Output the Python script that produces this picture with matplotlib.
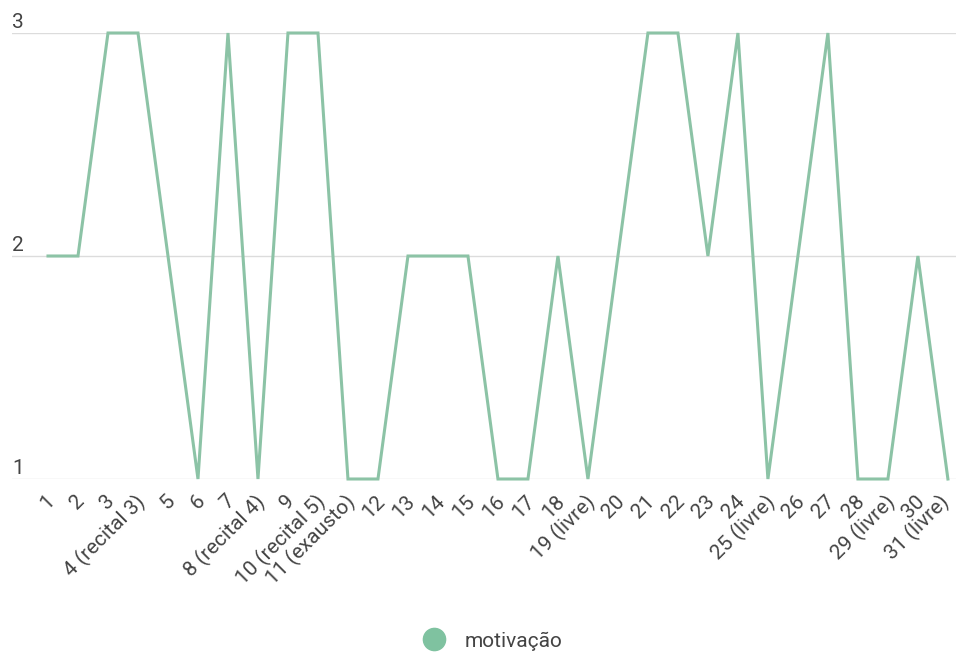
import matplotlib
matplotlib.use("Agg")
import matplotlib.pyplot as plt
from matplotlib.lines import Line2D
from matplotlib import transforms

# daily motivation scores for the month
days = list(range(1, 32))
day_labels = [
    "1", "2", "3", "4 (recital 3)", "5", "6", "7", "8 (recital 4)", "9",
    "10 (recital 5)", "11 (exausto)", "12", "13", "14", "15", "16", "17",
    "18", "19 (livre)", "20", "21", "22", "23", "24", "25 (livre)", "26",
    "27", "28", "29 (livre)", "30", "31 (livre)",
]
motivacao = [2, 2, 3, 3, 2, 1, 3, 1, 3, 3, 1, 1, 2, 2, 2, 1, 1, 2, 1, 2,
             3, 3, 2, 3, 1, 2, 3, 1, 1, 2, 1]
y_ticks = [1, 2, 3]

line_color = "#8cc3a6"
text_color = "#444444"
plt.rcParams["font.family"] = ["Roboto", "DejaVu Sans"]

W, H = 956, 652
fig = plt.figure(figsize=(W / 100, H / 100), dpi=100)
ax = fig.add_axes([12 / W, 1 - 479 / H, (956 - 12) / W, (479 - 33) / H])

ax.plot(days, motivacao, color=line_color, linewidth=2.2, clip_on=False,
        solid_joinstyle="miter")

ax.set_xlim(-0.2, 31.27)
ax.set_ylim(1, 3)

# horizontal gridlines
for v in y_ticks:
    ax.axhline(v, color="#dcdcdc", linewidth=1, zorder=0)

# y labels sit above their gridline at the left edge
offset = transforms.offset_copy(ax.get_yaxis_transform(), fig=fig, x=0, y=5, units="dots")
for v in y_ticks:
    ax.text(0, v, str(v), transform=offset, ha="left", va="baseline",
            fontsize=15, color=text_color)

ax.set_yticks([])
ax.set_xticks(days)
ax.set_xticklabels(day_labels, rotation=45, ha="right", rotation_mode="anchor",
                   fontsize=15, color=text_color)
ax.tick_params(axis="x", length=0, pad=9)
# nudge the rotated labels a little to the left; the last one a bit more so it fits
labels = ax.get_xticklabels()
for i, lbl in enumerate(labels):
    dx = -9 if i == len(labels) - 1 else -3
    lbl.set_transform(lbl.get_transform()
                      + transforms.ScaledTranslation(dx / 100, 0, fig.dpi_scale_trans))
for s in ax.spines.values():
    s.set_visible(False)

handle = Line2D([], [], marker="o", linestyle="none", markersize=16,
                markerfacecolor="#7fc2a0", markeredgecolor="#7fc2a0")
fig.legend([handle], ["motivação"], loc="center", bbox_to_anchor=(488 / W, 1 - 641 / H),
           frameon=False, fontsize=15, labelcolor=text_color, handletextpad=0.5)

fig.savefig("out.png", dpi=100)
